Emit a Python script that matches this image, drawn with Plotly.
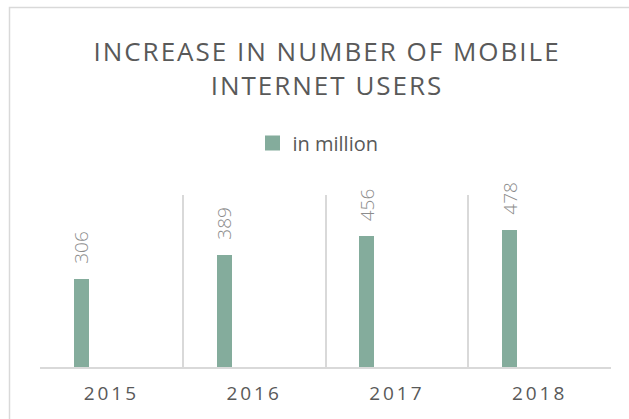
import plotly.graph_objects as go

years = ["2015", "2016", "2017", "2018"]
users_million = [306, 389, 456, 478]
series_name = "in million"
title_text = "INCREASE IN NUMBER OF MOBILE<br>INTERNET USERS"

BAR_COLOR = "#84AC9C"
GRID = "#D9D9D9"
DARK = "#595959"
LIGHT = "#8C8C8C"
FONT = "Open Sans"

bar_offset = -0.262
bar_width = 0.105

fig = go.Figure()
fig.add_trace(go.Bar(
    x=years, y=users_million, name=series_name,
    marker=dict(color=BAR_COLOR, line=dict(width=0)),
    offset=bar_offset, width=bar_width,
    showlegend=False, legendgroup="s", hoverinfo="skip",
))
# legend entry with a larger square swatch, matching the reference legend
fig.add_trace(go.Scatter(
    x=[None], y=[None], mode="markers", name=series_name,
    marker=dict(symbol="square", size=15, color=BAR_COLOR),
    showlegend=True, legendgroup="s",
))

# data labels (rotated) placed above each bar through the axes
for i, (yr, v) in enumerate(zip(years, users_million)):
    fig.add_annotation(
        x=i + bar_offset + bar_width / 2, y=v, xref="x", yref="y",
        text=str(v), showarrow=False, textangle=-90,
        xanchor="center", yanchor="middle", yshift=32,
        font=dict(family=FONT, size=19, color=LIGHT, weight=300),
    )

W, H = 629, 419
ml, mr, mt, mb = 40, 18, 195, 52
pw, ph = W - ml - mr, H - mt - mb

# chart frame (only left/top visible in the reference)
fig.add_shape(
    type="rect", xref="paper", yref="paper", layer="below",
    x0=(9.5 - ml) / pw, x1=(660 - ml) / pw,
    y0=-(460 - (H - mb)) / ph, y1=((H - mb) - 7.5) / ph,
    line=dict(color=GRID, width=1.5), fillcolor="rgba(0,0,0,0)",
)

fig.update_layout(
    width=W, height=H,
    margin=dict(l=ml, r=mr, t=mt, b=mb),
    paper_bgcolor="white", plot_bgcolor="white",
    font=dict(family=FONT, color=DARK),
    title=dict(
        text=title_text, x=(327 - ml) / pw, xref="paper", xanchor="center",
        y=1 - 61 / H, yref="container", yanchor="top",
        font=dict(family=FONT, size=26, color=DARK),
    ),
    legend=dict(
        orientation="h", x=(318 - ml) / pw, xanchor="center",
        y=1 - 143 / H, yref="container", yanchor="middle",
        font=dict(family=FONT, size=20, color=DARK),
        bgcolor="rgba(0,0,0,0)", itemwidth=30,
    ),
    bargap=0,
)
fig.update_xaxes(
    type="category", range=[-0.5, 3.5],
    tickson="boundaries", showgrid=True, gridcolor=GRID, gridwidth=1.5,
    showline=True, linecolor=GRID, linewidth=1.5, ticks="",
    tickfont=dict(family=FONT, size=19, color=DARK),
    ticklabelstandoff=8,
)
fig.update_yaxes(
    range=[0, 600], showgrid=False, showticklabels=False,
    zeroline=False, showline=False, ticks="",
)

post = """
document.body.style.margin = '0';
document.documentElement.style.margin = '0';
var gd = document.getElementById('{plot_id}');
function ls(){
  gd.querySelectorAll('.gtitle').forEach(function(t){ t.style.letterSpacing = '2px'; });
  gd.querySelectorAll('.xtick text').forEach(function(t){ t.style.letterSpacing = '3px'; });
}
ls();
gd.on('plotly_afterplot', ls);
"""
fig.write_html("out.html", post_script=post, config={"displayModeBar": False})
